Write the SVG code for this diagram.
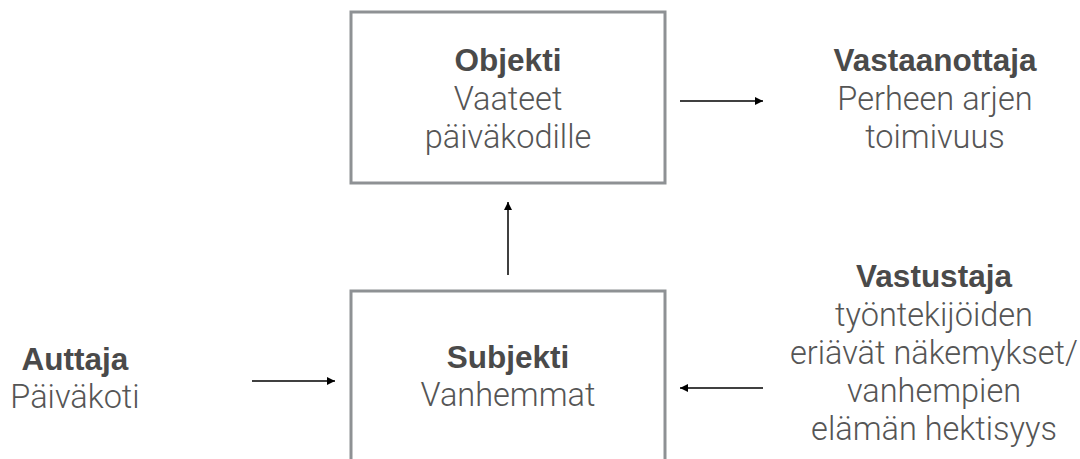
<svg xmlns="http://www.w3.org/2000/svg" width="1080" height="459" viewBox="0 0 1080 459">
  <style>
    .box { fill: #ffffff; stroke: #8e9194; stroke-width: 3; }
    .title { font-family: "Liberation Sans", Arial, sans-serif; font-weight: bold; font-size: 31.5px; fill: #4a4a4a; text-anchor: middle; }
    .body { font-family: Roboto, "Liberation Sans", Arial, sans-serif; font-weight: 300; font-size: 32.5px; fill: #555555; text-anchor: middle; }
    .edge { stroke: #000000; stroke-width: 1.5; fill: none; marker-end: url(#head); }
  </style>
  <defs>
    <marker id="head" markerUnits="userSpaceOnUse" markerWidth="10" markerHeight="8" refX="8" refY="4" orient="auto">
      <path d="M0,0 L8,4 L0,8 Z" fill="#000000"/>
    </marker>
  </defs>
  <rect width="1080" height="459" fill="#ffffff"/>

  <g id="objekti">
    <rect class="box" x="351" y="12" width="314" height="171"/>
    <text class="title" x="508" y="71">Objekti</text>
    <text class="body" x="508" y="110">Vaateet</text>
    <text class="body" x="508" y="148">päiväkodille</text>
  </g>

  <g id="subjekti">
    <rect class="box" x="351" y="291" width="314" height="200"/>
    <text class="title" x="508" y="368">Subjekti</text>
    <text class="body" x="508" y="406">Vanhemmat</text>
  </g>

  <g id="vastaanottaja">
    <text class="title" x="935" y="71">Vastaanottaja</text>
    <text class="body" x="935" y="110">Perheen arjen</text>
    <text class="body" x="935" y="148">toimivuus</text>
  </g>

  <g id="auttaja">
    <text class="title" x="75" y="370">Auttaja</text>
    <text class="body" x="75" y="408">Päiväkoti</text>
  </g>

  <g id="vastustaja">
    <text class="title" x="934" y="287">Vastustaja</text>
    <text class="body" x="934" y="326">työntekijöiden</text>
    <text class="body" x="934" y="364">eriävät näkemykset/</text>
    <text class="body" x="934" y="402">vanhempien</text>
    <text class="body" x="934" y="440">elämän hektisyys</text>
  </g>

  <g id="connectors">
    <line class="edge" x1="680" y1="101" x2="763" y2="101"/>
    <line class="edge" x1="508" y1="275" x2="508" y2="202"/>
    <line class="edge" x1="252" y1="381" x2="335" y2="381"/>
    <line class="edge" x1="763" y1="388" x2="680" y2="388"/>
  </g>
</svg>
